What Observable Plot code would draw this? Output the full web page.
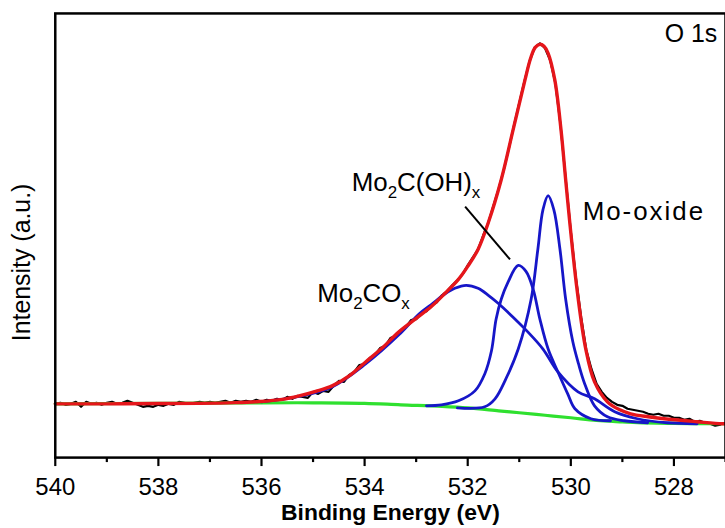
<!DOCTYPE html>
<html><head><meta charset="utf-8">
<script src="https://cdn.jsdelivr.net/npm/d3@7"></script>
<script src="https://cdn.jsdelivr.net/npm/@observablehq/plot@0.6"></script>
<style>
html,body{margin:0;padding:0;overflow:hidden;background:#fff;width:725px;height:528px}
#chart svg{display:block}
</style></head><body><div id="chart"></div>
<script>
// ---- data (binding energy in eV, intensity in a.u.) ----
const rawE = [540.0,539.9,539.8,539.7,539.6,539.5,539.4,539.3,539.2,539.1,539.0,538.9,538.8,538.7,538.6,538.5,538.4,538.3,538.2,538.1,538.0,537.9,537.8,537.7,537.6,537.5,537.4,537.3,537.2,537.1,537.0,536.9,536.8,536.7,536.6,536.5,536.4,536.3,536.2,536.1,536.0,535.9,535.8,535.7,535.6,535.5,535.4,535.3,535.2,535.1,535.0,534.9,534.8,534.7,534.6,534.5,534.4,534.3,534.2,534.1,534.0,533.9,533.8,533.7,533.6,533.5,533.4,533.3,533.2,533.1,533.0,532.9,532.8,532.7,532.6,532.5,532.4,532.3,532.2,532.1,532.0,531.9,531.8,531.7,531.6,531.5,531.4,531.3,531.2,531.1,531.0,530.9,530.8,530.7,530.6,530.5,530.4,530.3,530.2,530.1,530.0,529.9,529.8,529.7,529.6,529.5,529.4,529.3,529.2,529.1,529.0,528.9,528.8,528.7,528.6,528.5,528.4,528.3,528.2,528.1,528.0,527.9,527.8,527.7,527.6,527.5,527.4,527.3,527.2,527.1];
const rawI = [50,51,49,50,52,47,52,50,51,49,51,52,50,51,53,51,49,47,48,47,49,48,50,49,52,51,50,51,52,51,52,51,52,53,51,53,52,53,52,54,52,54,53,55,54,57,55,58,57,56,62,60,63,62,68,73,72,79,82,89,90,96,99,106,108,116,118,124,127,134,135,141,143,149,152,159,163,169,174,180,189,197,205,219,232,249,266,285,307,330,352,374,394,408,412,407,395,372,330,276,223,176,137,104,85,70,62,56,52,49,48,45,44,43,42,40,39,40,38,38,36,36,34,35,32,33,31,30,28,29];

const fitE = [540,539,538,537.2,536.5,536.04,535.6,535.27,534.95,534.63,534.3,533.98,533.66,533.34,533.02,532.7,532.44,532.18,532.0,531.8,531.6,531.35,531.12,530.89,530.78,530.69,530.6,530.52,530.44,530.31,530.19,530.1,530.02,529.88,529.71,529.54,529.29,529.05,528.84,528.5,528.19,527.55,527.07,526.97];
const fitI = [50,50,50.3,50.5,51.2,52.3,54.5,58,62.5,68,78,92,106,122,135,148,161,175,188,205,232,275,325,375,397,408,411,409,402,375,325,275,232,165,105,72,52,44,40,37,35,32,30,30];

const bgE = [540,536,535,534,533.3,532.5,532,531.4,531,530.5,530,529.5,529,528.7,528,527.5,526.97];
const bgI = [50,51,51,50.5,49,47.5,46,43,41,38.5,36,33.3,31.8,31,30.3,30,30];

const oxideE = [532.2,531.67,531.47,531.26,531.02,530.77,530.64,530.54,530.44,530.33,530.21,530.10,529.96,529.85,529.73,529.54,529.29,528.96,528.51];
const oxideI = [46,47,55,75,105,155,205,245,259,245,205,155,112,90,70,48,37,33,31];

const ohE = [532.8,532.51,532.18,531.86,531.67,531.54,531.45,531.35,531.22,531.02,530.87,530.73,530.60,530.44,530.25,530.06,529.92,529.61,529.23];
const ohI = [48,49,53,63,80,103,135,155,172,189,183,165,135,105,82,60,45,35,33];

const coE = [536.0,535.27,534.63,533.98,533.34,532.95,532.70,532.45,532.25,532.03,531.80,531.60,531.41,531.12,530.83,530.54,530.25,529.86,529.54,529.15,528.71,528.13,527.55];
const coI = [52,57.5,67,90,119,140,150,160,166,169,166,159,151,137,122,105,82,62,55,42,35,31,30];

const majorTicks = [540,538,536,534,532,530,528];
const minorTicks = [539,537,535,533,531,529,527];

const labelText = ["O 1s", "Mo-oxide", "Mo_2C(OH)_x", "Mo_2CO_x"];
const labelE = [527.16, 529.77, 534.25, 534.92];
const labelI = [421, 242.5, 272, 161];
const leaderE = [532.05, 531.18];
const leaderI = [248, 195];

// ---- build tables ----
const zip = (E, I) => E.map((e, i) => ({E: e, I: I[i]}));
const raw = zip(rawE, rawI), fit = zip(fitE, fitI), bg = zip(bgE, bgI);
const oxide = zip(oxideE, oxideI), oh = zip(ohE, ohI), co = zip(coE, coI);
const labels = labelText.map((t, i) => ({t, E: labelE[i], I: labelI[i]}));
const leader = [{E1: leaderE[0], I1: leaderI[0], E2: leaderE[1], I2: leaderI[1]}];

const RED = "#e5161b", BLUE = "#1616c8", GREEN = "#2fe02f";
const font = "'Liberation Sans', Arial, sans-serif";

const chart = Plot.plot({
  width: 728, height: 528,
  marginLeft: 55, marginRight: 0, marginTop: 13, marginBottom: 69,
  style: {fontFamily: font, background: "white", color: "black"},
  x: {domain: [540, 527]},
  y: {domain: [-4, 442], axis: null},
  marks: [
    Plot.line(raw, {x: "E", y: "I", stroke: "black", strokeWidth: 2.2}),
    Plot.line(bg, {x: "E", y: "I", stroke: GREEN, strokeWidth: 3.2, curve: "catmull-rom"}),
    Plot.line(co, {x: "E", y: "I", stroke: BLUE, strokeWidth: 2.8, curve: "catmull-rom"}),
    Plot.line(oh, {x: "E", y: "I", stroke: BLUE, strokeWidth: 2.8, curve: "catmull-rom"}),
    Plot.line(oxide, {x: "E", y: "I", stroke: BLUE, strokeWidth: 2.8, curve: "catmull-rom"}),
    Plot.line(fit, {x: "E", y: "I", stroke: RED, strokeWidth: 3.4, curve: "catmull-rom"}),
    Plot.link(leader, {x1: "E1", y1: "I1", x2: "E2", y2: "I2", stroke: "black", strokeWidth: 2}),
    Plot.frame({stroke: "black", strokeWidth: 2.5}),
    Plot.axisX({ticks: majorTicks, tickSize: 9, tickPadding: 12, strokeWidth: 2.2, fontSize: 24, label: null, tickFormat: d => String(d)}),
    Plot.axisX({ticks: minorTicks, tickSize: 5, strokeWidth: 2.2, label: null, tickFormat: () => ""}),
    Plot.text(["Binding Energy (eV)"], {frameAnchor: "bottom", lineAnchor: "bottom", dy: 63, fontSize: 23, fontWeight: "bold"}),
    Plot.text(["Intensity (a.u.)"], {frameAnchor: "left", textAnchor: "middle", rotate: -90, dx: -33, dy: 27, fontSize: 25}),
    Plot.text(labels.slice(0, 1), {x: "E", y: "I", text: "t", textAnchor: "end", fontSize: 25}),
    Plot.text(labels.slice(1), {x: "E", y: "I", text: "t", textAnchor: "start", fontSize: 26, className: "lbl"})
  ]
});
document.getElementById("chart").appendChild(chart);

// subscripts and spacing for annotation labels
chart.querySelectorAll(".lbl text").forEach(t => {
  const s = t.textContent;
  if (s === "Mo-oxide") { t.setAttribute("letter-spacing", "2"); return; }
  const parts = s.split(/_(\w)/);
  t.textContent = "";
  const ns = "http://www.w3.org/2000/svg";
  parts.forEach((p, i) => {
    if (!p) return;
    const ts = document.createElementNS(ns, "tspan");
    ts.textContent = p;
    if (i % 2 === 1) { ts.setAttribute("font-size", "17"); ts.setAttribute("dy", "7"); }
    else if (i > 0) { ts.setAttribute("dy", "-7"); }
    t.appendChild(ts);
  });
});
</script></body></html>
